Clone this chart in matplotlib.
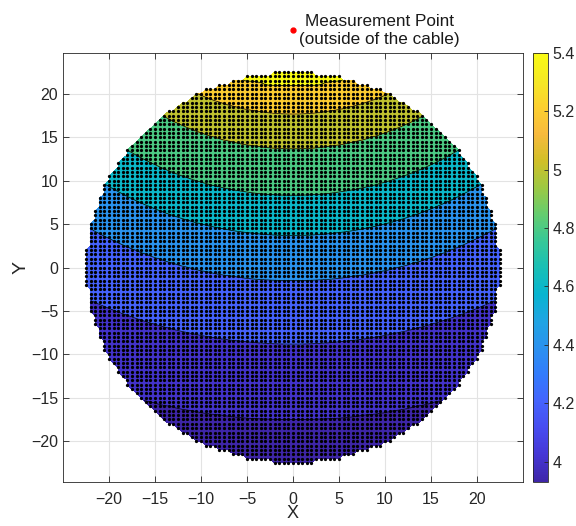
import numpy as np
import matplotlib.pyplot as plt
from matplotlib.colors import LinearSegmentedColormap, Normalize
from matplotlib.cm import ScalarMappable
from matplotlib.ticker import FormatStrFormatter

plt.rcParams['font.family'] = ['Liberation Sans', 'DejaVu Sans']

# parula (every 4th entry of the 64 colour table)
parula_pts = [
    (0.2422, 0.1504, 0.6603), (0.2706, 0.2147, 0.8364), (0.2813, 0.3006, 0.9414),
    (0.2699, 0.3892, 0.9906), (0.1963, 0.4847, 0.9892), (0.1687, 0.5703, 0.9359),
    (0.1248, 0.6459, 0.8883), (0.0297, 0.7082, 0.8163), (0.0964, 0.7500, 0.7120),
    (0.2161, 0.7843, 0.5923), (0.3909, 0.8029, 0.4354), (0.6174, 0.7876, 0.2612),
    (0.8203, 0.7498, 0.1535), (0.9728, 0.7298, 0.2394), (0.9892, 0.8136, 0.1885),
    (0.9597, 0.9135, 0.1423), (0.9769, 0.9839, 0.0805),
]
parula = LinearSegmentedColormap.from_list('parula', parula_pts)

# contour levels and where each one crosses the centre line x = 0
levels = [4.0, 4.2, 4.4, 4.6, 4.8, 5.0, 5.2, 5.4]
y_cross = [-17.5, -8.8, -1.5, 3.7, 8.3, 13.7, 17.7, 20.8]
v_min, v_max = 3.93, 5.42
y_bot, y_top = -22.6, 22.6
y_curv = 42.0       # centre of curvature of the contour lines

R = 22.6            # cable radius
step = 0.5          # measurement grid spacing
meas_pt = (0.0, 27.3)

g = np.arange(-25, 25 + step, step)
X, Y = np.meshgrid(g, g)
inside = X**2 + Y**2 <= R**2

y_eq = y_curv - np.hypot(X, Y - y_curv)
Z = np.interp(y_eq, [y_bot] + y_cross + [y_top], [v_min] + levels + [v_max])
Z = np.ma.masked_where(~inside, Z)

norm = Normalize(v_min, 5.4)
fill_levels = [v_min] + levels + [v_max]
fill_colors = [parula(norm(v)) for v in fill_levels[:-1]]

fig = plt.figure(figsize=(5.76, 5.26), dpi=100)
ax = fig.add_axes([63/576, 1 - 482/526, 460/576, 429/526])
ax.set_axisbelow(True)
ax.grid(True, color='#e3e3e3', linewidth=0.8)

ax.contourf(X, Y, Z, levels=fill_levels, colors=fill_colors)
ax.contour(X, Y, Z, levels=levels, colors='k', linewidths=0.5)
ax.scatter(X[inside], Y[inside], s=5.5, c='k', linewidths=0)

ax.plot(*meas_pt, 'o', color='red', markersize=3.5, clip_on=False)
ax.text(9.35, meas_pt[1], 'Measurement Point\n(outside of the cable)',
        ha='center', va='center', multialignment='center', fontsize=12.3,
        color='#1a1a1a')

ax.set_xlim(-25, 25)
ax.set_ylim(-24.7, 24.7)
ticks = np.arange(-20, 25, 5)
ax.set_xticks(ticks)
ax.set_yticks(ticks)
ax.tick_params(direction='in', top=True, right=True, labelsize=11.5,
               colors='#262626', length=4, width=0.6)
ax.tick_params(axis='x', pad=7)
for s in ax.spines.values():
    s.set_color('#262626')
    s.set_linewidth(0.6)
ax.set_xlabel('X', fontsize=13, color='#262626', labelpad=-1)
ax.set_ylabel('Y', fontsize=14, color='#262626', labelpad=1)

cax = fig.add_axes([533/576, 1 - 482/526, 15/576, 429/526])
cb = fig.colorbar(ScalarMappable(norm=norm, cmap=parula), cax=cax)
cb.set_ticks(levels)
cb.ax.yaxis.set_major_formatter(FormatStrFormatter('%g'))
cb.ax.tick_params(labelsize=11.5, colors='#262626', direction='in', length=3, width=0.6)
cb.outline.set_edgecolor('#262626')
cb.outline.set_linewidth(0.6)

fig.savefig('out.png', dpi=100)
